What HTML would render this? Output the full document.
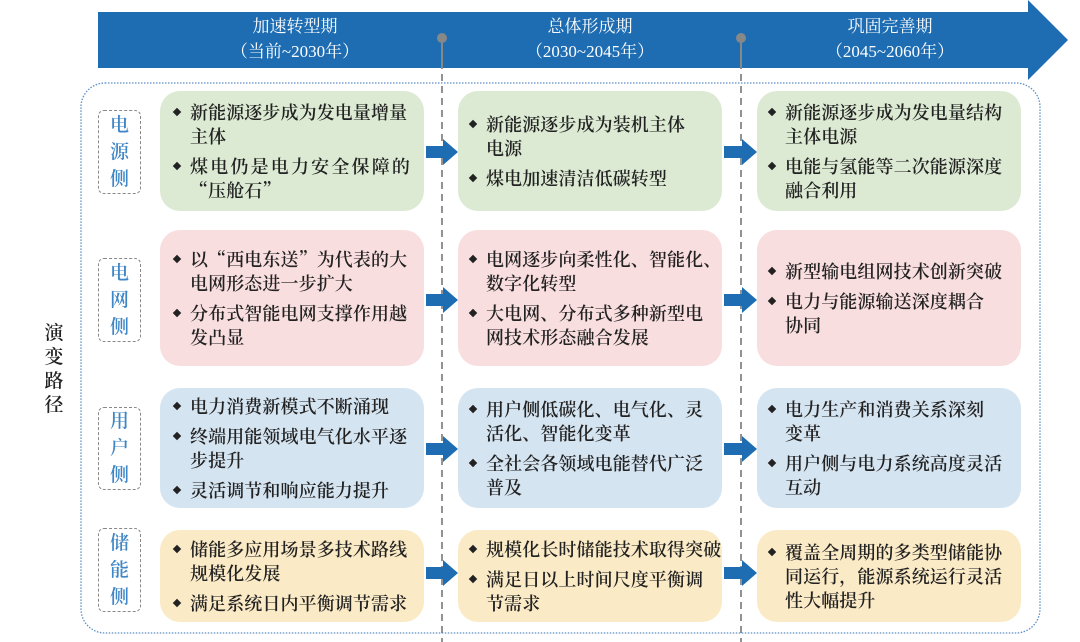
<!DOCTYPE html>
<html><head><meta charset="utf-8"><style>
*{margin:0;padding:0;box-sizing:border-box}
body{width:1080px;height:642px;background:#fff;position:relative;overflow:hidden;font-family:"Liberation Serif","Noto Serif CJK SC",serif;color:#222}
.a{position:absolute}
.box{position:absolute;border-radius:20px;padding:0 0 0 30px;display:flex;flex-direction:column;justify-content:center;font-family:"Noto Serif CJK SC",serif;font-size:18px;letter-spacing:0.1px;line-height:24px;font-weight:600;white-space:nowrap}
.box p{position:relative;margin:3px 0}
.box p:before{content:"";position:absolute;left:-16px;top:9px;width:6px;height:6px;background:#222;transform:rotate(45deg)}
.c2{padding-left:28px}.c3{padding-left:28px}
.j{display:block;width:220px;text-align:justify;text-align-last:justify}
.g{background:#dcead3}.r{background:#f9dedf}.b{background:#d5e4f1}.y{background:#fbeac6}
.side{position:absolute;left:98px;width:43px;border:1.5px dashed #888;border-radius:6px;color:#3f86c6;font-size:19px;font-weight:600;line-height:27px;text-align:center;display:flex;flex-direction:column;justify-content:center}
.hd{position:absolute;top:14px;color:#fff;font-size:17px;line-height:25px;text-align:center;width:260px}
</style></head><body>
<svg class="a" style="left:0;top:0" width="1080" height="642">
<polygon points="98,12 1028,12 1028,0 1068,40 1028,80 1028,68 98,68" fill="#1e6db3"/>
<rect x="81" y="83" width="959" height="550" rx="24" fill="none" stroke="#5b8fc8" stroke-width="1.3" stroke-dasharray="1.5,1.5"/>
<line x1="442" y1="38" x2="442" y2="642" stroke="#777" stroke-width="1.6" stroke-dasharray="7,5"/>
<line x1="741" y1="38" x2="741" y2="642" stroke="#777" stroke-width="1.6" stroke-dasharray="7,5"/>
<line x1="442" y1="38" x2="442" y2="68" stroke="#888" stroke-width="2"/>
<line x1="741" y1="38" x2="741" y2="68" stroke="#888" stroke-width="2"/>
<circle cx="442" cy="38" r="5" fill="#888"/><circle cx="741" cy="38" r="5" fill="#888"/>
<g fill="#1e6db3">
<polygon points="426,146 443,146 443,139 458,152 443,165 443,158 426,158"/>
<polygon points="426,294 443,294 443,287 458,300 443,313 443,306 426,306"/>
<polygon points="426,443 443,443 443,436 458,449 443,462 443,455 426,455"/>
<polygon points="426,567 443,567 443,560 458,573 443,586 443,579 426,579"/>
<polygon points="724,146 742,146 742,139 757,152 742,165 742,158 724,158"/>
<polygon points="724,294 742,294 742,287 757,300 742,313 742,306 724,306"/>
<polygon points="724,443 742,443 742,436 757,449 742,462 742,455 724,455"/>
<polygon points="724,567 742,567 742,560 757,573 742,586 742,579 724,579"/>
</g>
</svg>
<div class="hd" style="left:165px">加速转型期<br>（当前~2030年）</div>
<div class="hd" style="left:460px">总体形成期<br>（2030~2045年）</div>
<div class="hd" style="left:760px">巩固完善期<br>（2045~2060年）</div>
<div class="a" style="left:42px;top:322px;width:24px;font-size:19px;line-height:24px;text-align:center;font-weight:600">演<br>变<br>路<br>径</div>
<div class="side" style="top:110px;height:84px">电<br>源<br>侧</div>
<div class="side" style="top:258px;height:84px">电<br>网<br>侧</div>
<div class="side" style="top:407px;height:83px">用<br>户<br>侧</div>
<div class="side" style="top:528px;height:84px">储<br>能<br>侧</div>

<div class="box g" style="left:160px;top:91px;width:264px;height:120px"><p>新能源逐步成为发电量增量<br>主体</p><p><span class="j">煤电仍是电力安全保障的</span>“压舱石”</p></div>
<div class="box g c2" style="left:458px;top:91px;width:264px;height:120px"><p>新能源逐步成为装机主体<br>电源</p><p>煤电加速清洁低碳转型</p></div>
<div class="box g c3" style="left:757px;top:91px;width:264px;height:120px"><p>新能源逐步成为发电量结构<br>主体电源</p><p>电能与氢能等二次能源深度<br>融合利用</p></div>

<div class="box r" style="left:160px;top:230px;width:264px;height:136px"><p>以“西电东送”为代表的大<br>电网形态进一步扩大</p><p>分布式智能电网支撑作用越<br>发凸显</p></div>
<div class="box r c2" style="left:458px;top:230px;width:264px;height:136px"><p>电网逐步向柔性化、智能化、<br>数字化转型</p><p>大电网、分布式多种新型电<br>网技术形态融合发展</p></div>
<div class="box r c3" style="left:757px;top:230px;width:264px;height:136px"><p>新型输电组网技术创新突破</p><p>电力与能源输送深度耦合<br>协同</p></div>

<div class="box b" style="left:160px;top:388px;width:264px;height:120px"><p>电力消费新模式不断涌现</p><p>终端用能领域电气化水平逐<br>步提升</p><p>灵活调节和响应能力提升</p></div>
<div class="box b c2" style="left:458px;top:388px;width:264px;height:120px"><p>用户侧低碳化、电气化、灵<br>活化、智能化变革</p><p>全社会各领域电能替代广泛<br>普及</p></div>
<div class="box b c3" style="left:757px;top:388px;width:264px;height:120px"><p>电力生产和消费关系深刻<br>变革</p><p>用户侧与电力系统高度灵活<br>互动</p></div>

<div class="box y" style="left:160px;top:530px;width:264px;height:92px"><p>储能多应用场景多技术路线<br>规模化发展</p><p>满足系统日内平衡调节需求</p></div>
<div class="box y c2" style="left:458px;top:530px;width:264px;height:92px"><p>规模化长时储能技术取得突破</p><p>满足日以上时间尺度平衡调<br>节需求</p></div>
<div class="box y c3" style="left:757px;top:530px;width:264px;height:92px"><p>覆盖全周期的多类型储能协<br>同运行，能源系统运行灵活<br>性大幅提升</p></div>
</body></html>
